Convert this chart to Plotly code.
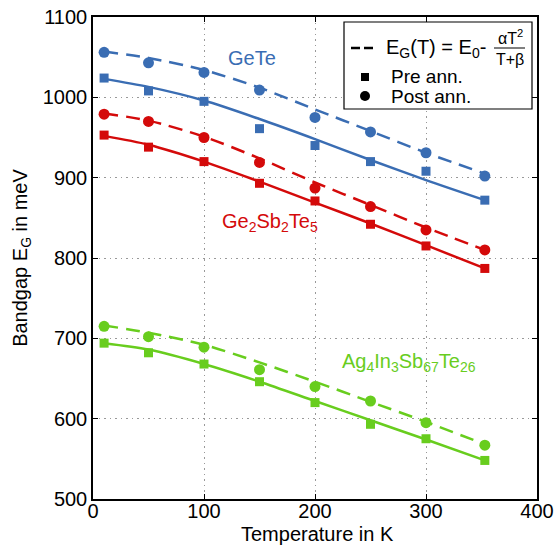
import plotly.graph_objects as go

# ---- data ----
temps = [10, 50, 100, 150, 200, 250, 300, 353]

gete_pre = [1024, 1008, 995, 961, 940, 920, 908, 872]
gete_post = [1056, 1043, 1031, 1009, 975, 957, 931, 902]
gete_fit_pre = [1023, 1013, 996, 973, 948, 922, 897, 872]
gete_fit_post = [1057, 1049, 1034, 1012, 985, 958, 931, 905]

gst_pre = [953, 938, 920, 893, 871, 842, 815, 787]
gst_post = [979, 970, 950, 919, 887, 864, 835, 810]
gst_fit_pre = [952, 941, 920, 895, 869, 843, 816, 787]
gst_fit_post = [980, 971, 951, 924, 894, 866, 838, 810]

aist_pre = [694, 682, 668, 646, 620, 593, 575, 548]
aist_post = [715, 702, 689, 661, 640, 622, 595, 567]
aist_fit_pre = [694, 686, 668, 646, 622, 598, 574, 548]
aist_fit_post = [716, 707, 692, 670, 646, 621, 596, 568]

x_ticks = [0, 100, 200, 300, 400]
y_ticks = [500, 600, 700, 800, 900, 1000, 1100]

BLUE = "#3A6DB3"
RED = "#D40A0A"
GREEN = "#68CD1E"
FONT = "Liberation Sans, Arial, sans-serif"

# plot-area pixel frame (from the reference)
L, R, T, B = 93, 537, 17, 499
W, H = R - L, B - T


def px(xp):
    return (xp - L) / W


def py(yp):
    return (B - yp) / H


fig = go.Figure()

series = [
    (gete_pre, gete_post, gete_fit_pre, gete_fit_post, BLUE),
    (gst_pre, gst_post, gst_fit_pre, gst_fit_post, RED),
    (aist_pre, aist_post, aist_fit_pre, aist_fit_post, GREEN),
]
for pre, post, fpre, fpost, col in series:
    fig.add_trace(go.Scatter(x=temps, y=fpre, mode="lines",
                             line=dict(color=col, width=2.5, shape="spline", smoothing=0.8),
                             showlegend=False, hoverinfo="skip"))
    fig.add_trace(go.Scatter(x=temps, y=fpost, mode="lines",
                             line=dict(color=col, width=2.5, shape="spline", smoothing=0.8,
                                       dash="14px,8px"),
                             showlegend=False, hoverinfo="skip"))
    fig.add_trace(go.Scatter(x=temps, y=pre, mode="markers",
                             marker=dict(symbol="square", size=9, color=col),
                             showlegend=False))
    fig.add_trace(go.Scatter(x=temps, y=post, mode="markers",
                             marker=dict(symbol="circle", size=11, color=col),
                             showlegend=False))

axis_common = dict(
    showline=True, linecolor="black", linewidth=1.5, mirror="ticks",
    ticks="inside", ticklen=5, tickwidth=1, tickcolor="black",
    showgrid=True, gridcolor="#999999", gridwidth=1, griddash="1.5px,4px",
    zeroline=False, automargin=False,
    tickfont=dict(family=FONT, size=20, color="black"),
)

fig.update_xaxes(range=[0, 400], tickvals=x_ticks, ticktext=[str(v) for v in x_ticks],
                 ticklabelstandoff=-7,
                 **axis_common)
fig.update_yaxes(range=[500, 1100], tickvals=y_ticks, ticktext=[str(v) for v in y_ticks],
                 title=dict(text="Bandgap E<sub>G</sub> in meV",
                            font=dict(family=FONT, size=20, color="black"), standoff=10),
                 **axis_common)

# x-axis title as an annotation (placed below tick labels)
fig.add_annotation(x=px(317), y=py(534), xref="paper", yref="paper",
                   text="Temperature in K", showarrow=False,
                   font=dict(family=FONT, size=20, color="black"),
                   xanchor="center", yanchor="middle", borderpad=0)

labels = [
    (252, 58, "GeTe", BLUE),
    (270, 222, "Ge<sub>2</sub>Sb<sub>2</sub>Te<sub>5</sub>", RED),
    (409, 362, "Ag<sub>4</sub>In<sub>3</sub>Sb<sub>67</sub>Te<sub>26</sub>", GREEN),
]
for xp, yp, txt, col in labels:
    fig.add_annotation(x=px(xp), y=py(yp), xref="paper", yref="paper", text=txt,
                       showarrow=False, font=dict(family=FONT, size=20, color=col),
                       xanchor="center", yanchor="middle")

# ---- custom legend ----
shapes = [
    dict(type="rect", xref="paper", yref="paper",
         x0=px(344), x1=px(532), y0=py(109), y1=py(22),
         line=dict(color="black", width=1.2), fillcolor="white", layer="above"),
    dict(type="line", xref="paper", yref="paper",
         x0=px(351), x1=px(374), y0=py(48), y1=py(48),
         line=dict(color="black", width=2.5, dash="9px,4px"), layer="above"),
    dict(type="line", xref="paper", yref="paper",
         x0=px(494), x1=px(525), y0=py(48), y1=py(48),
         line=dict(color="black", width=1), layer="above"),
    dict(type="rect", xref="paper", yref="paper",
         x0=px(361), x1=px(369), y0=py(81), y1=py(73),
         line=dict(width=0), fillcolor="black", layer="above"),
    dict(type="circle", xref="paper", yref="paper",
         x0=px(360), x1=px(370), y0=py(101), y1=py(91),
         line=dict(width=0), fillcolor="black", layer="above"),
]
fig.update_layout(shapes=shapes)

legend_texts = [
    (385, 48, "E<sub>G</sub>(T) = E<sub>0</sub>-", 20, "left"),
    (510, 37, "αT<sup>2</sup>", 16, "center"),
    (510, 59, "T+β", 16, "center"),
    (390, 76, "Pre ann.", 19, "left"),
    (390, 97, "Post ann.", 19, "left"),
]
for xp, yp, txt, fs, anc in legend_texts:
    fig.add_annotation(x=px(xp), y=py(yp), xref="paper", yref="paper", text=txt,
                       showarrow=False, font=dict(family=FONT, size=fs, color="black"),
                       xanchor=anc, yanchor="middle", borderpad=0)

fig.update_layout(
    width=556, height=545,
    margin=dict(l=L, r=556 - R, t=T, b=545 - B),
    paper_bgcolor="white", plot_bgcolor="white",
    font=dict(family=FONT, size=20, color="black"),
    showlegend=False,
)

fig.write_html("out.html")
